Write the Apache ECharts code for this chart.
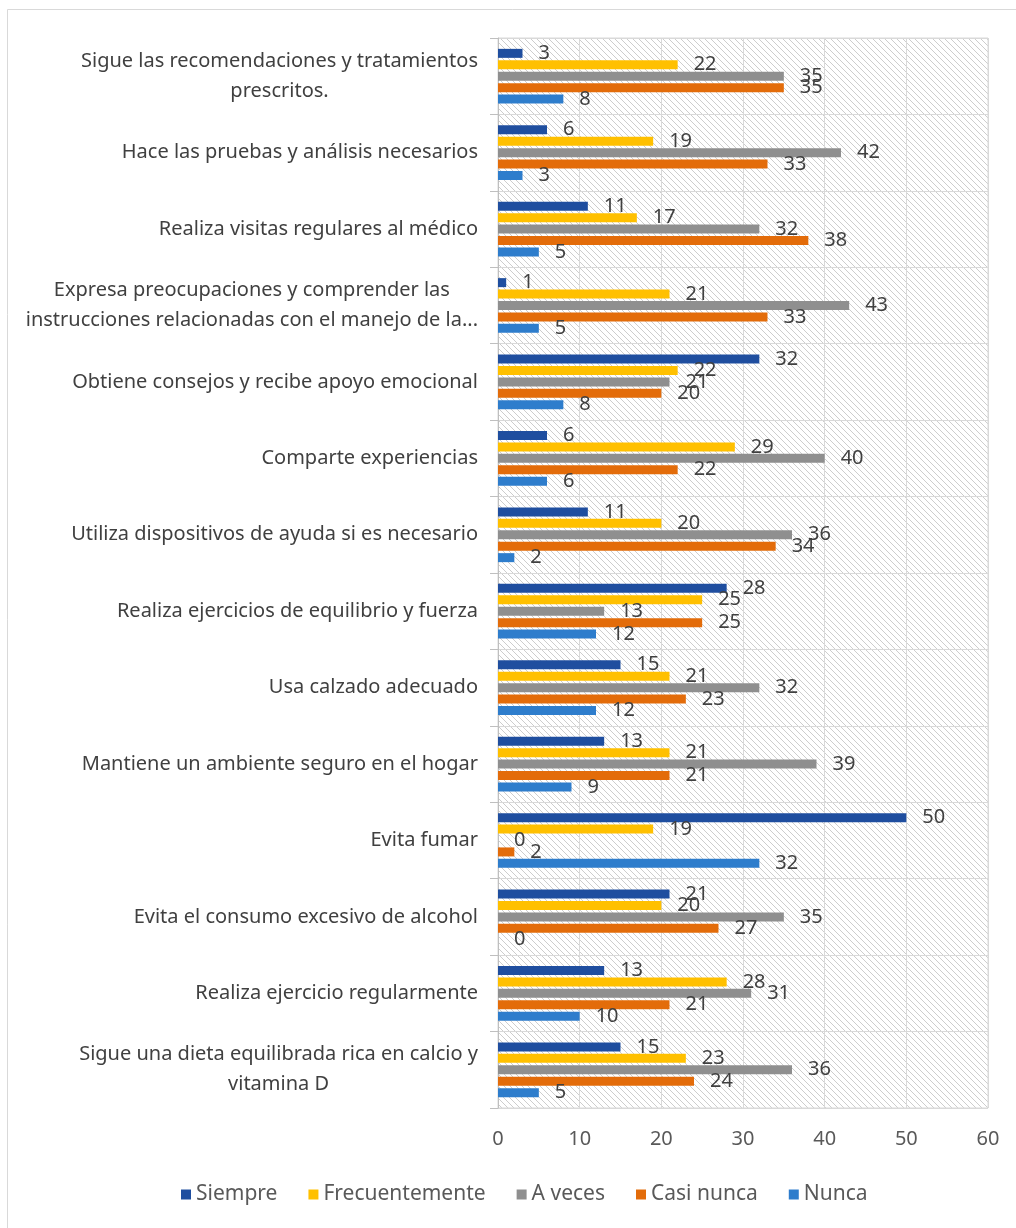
<!DOCTYPE html>
<html>
<head>
<meta charset="utf-8">
<script src="https://cdn.jsdelivr.net/npm/echarts@6/dist/echarts.min.js"></script>
<style>
html,body{margin:0;padding:0;background:#ffffff;}
#chart{width:1016px;height:1228px;}
</style>
</head>
<body>
<div id="chart"></div>
<script>
// ---- data ----
const categories = [
  'Sigue las recomendaciones y tratamientos\nprescritos.',
  'Hace las pruebas y análisis necesarios',
  'Realiza visitas regulares al médico',
  'Expresa preocupaciones y comprender las\ninstrucciones relacionadas con el manejo de la...',
  'Obtiene consejos y recibe apoyo emocional',
  'Comparte experiencias',
  'Utiliza dispositivos de ayuda si es necesario',
  'Realiza ejercicios de equilibrio y fuerza',
  'Usa calzado adecuado',
  'Mantiene un ambiente seguro en el hogar',
  'Evita fumar',
  'Evita el consumo excesivo de alcohol',
  'Realiza ejercicio regularmente',
  'Sigue una dieta equilibrada rica en calcio y\nvitamina D'
];
const seriesNames = ['Siempre', 'Frecuentemente', 'A veces', 'Casi nunca', 'Nunca'];
const siempre        = [3, 6, 11, 1, 32, 6, 11, 28, 15, 13, 50, 21, 13, 15];
const frecuentemente = [22, 19, 17, 21, 22, 29, 20, 25, 21, 21, 19, 20, 28, 23];
const aVeces         = [35, 42, 32, 43, 21, 40, 36, 13, 32, 39, 0, 35, 31, 36];
const casiNunca      = [35, 33, 38, 33, 20, 22, 34, 25, 23, 21, 2, 27, 21, 24];
const nunca          = [8, 3, 5, 5, 8, 6, 2, 12, 12, 9, 32, 0, 10, 5];
const xTicks = [0, 10, 20, 30, 40, 50, 60];

// ---- styles ----
const seriesValues = [siempre, frecuentemente, aVeces, casiNunca, nunca];
const colors = ['#1f4e9f', '#ffc000', '#8f8f8f', '#e36c0a', '#2e7dcc'];
const FONT = 'Noto Sans';
const TXT = '#404040';
const FS = 20;

// hatch pattern
const T = 6;
const tile = document.createElement('canvas');
tile.width = T; tile.height = T;
const tc = tile.getContext('2d');
tc.fillStyle = '#ffffff';
tc.fillRect(0, 0, T, T);
tc.strokeStyle = '#cdcdcd';
tc.lineWidth = 1;
tc.beginPath();
tc.moveTo(-1, -1); tc.lineTo(T + 1, T + 1);
tc.moveTo(-1, T - 1); tc.lineTo(1, T + 1);
tc.moveTo(T - 1, -1); tc.lineTo(T + 1, 1);
tc.stroke();

const chart = echarts.init(document.getElementById('chart'), null, {renderer: 'canvas'});
chart.setOption({
  animation: false,
  backgroundColor: '#ffffff',
  color: colors,
  graphic: [{
    type: 'rect',
    z: -10,
    shape: {x: 7.5, y: 9.5, width: 1200, height: 1400},
    style: {fill: 'none', stroke: '#d9d9d9', lineWidth: 1}
  }],
  grid: {
    left: 498, right: 28, top: 38, bottom: 120,
    show: true,
    backgroundColor: {image: tile, repeat: 'repeat'},
    borderColor: '#d9d9d9',
    borderWidth: 1
  },
  legend: {
    data: seriesNames,
    left: 176,
    top: 1179,
    icon: 'rect',
    itemWidth: 10,
    itemHeight: 10,
    itemGap: 31,
    textStyle: {fontFamily: FONT, fontSize: 21, color: '#595959'}
  },
  xAxis: {
    type: 'value',
    min: xTicks[0],
    max: xTicks[xTicks.length - 1],
    interval: 10,
    axisLine: {show: false},
    axisTick: {show: false},
    splitLine: {show: true, lineStyle: {color: '#d9d9d9', width: 1}},
    axisLabel: {fontFamily: FONT, fontSize: FS, color: '#595959', margin: 21}
  },
  yAxis: {
    type: 'category',
    inverse: true,
    data: categories,
    axisLine: {show: true, lineStyle: {color: '#bfbfbf'}},
    axisTick: {show: true, length: 8, lineStyle: {color: '#bfbfbf'}},
    splitLine: {show: true, lineStyle: {color: '#d9d9d9', width: 1}},
    axisLabel: {
      margin: 20,
      formatter: function (v) {
        return v.split('\n').map(function (l) { return '{c|' + l + '}'; }).join('\n');
      },
      rich: {
        c: {align: 'center', fontFamily: FONT, fontSize: FS, color: TXT, lineHeight: 30}
      }
    }
  },
  series: seriesNames.map(function (name, i) {
    return {
      name: name,
      type: 'bar',
      data: seriesValues[i],
      barWidth: 9,
      barGap: '27%',
      label: {
        show: true,
        position: 'right',
        distance: 16,
        fontFamily: FONT,
        fontSize: FS,
        color: TXT
      }
    };
  })
});
</script>
</body>
</html>
